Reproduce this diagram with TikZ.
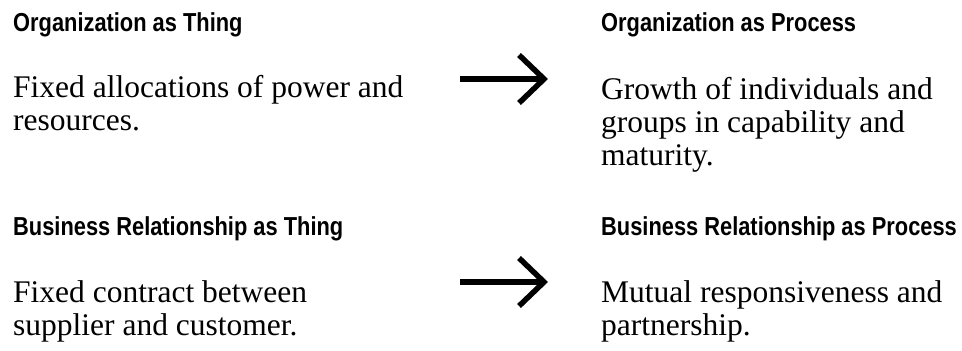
\documentclass[tikz,border=0pt]{standalone}
\usepackage{fontspec}
\setmainfont{Liberation Serif}
\newfontfamily\headfont[FakeStretch=0.84]{Liberation Sans}
\usetikzlibrary{arrows.meta}

\begin{document}
\begin{tikzpicture}[
    x=1pt, y=-1pt,
    heading/.style={anchor=base west, inner sep=0pt, font=\headfont\bfseries\fontsize{26}{30}\selectfont},
    body/.style={anchor=base west, inner sep=0pt, align=left, font=\fontsize{31.5}{33}\selectfont},
    bigarrow/.style={line width=5.5pt, -{Straight Barb[length=25pt, width=48pt, line width=5.5pt]}}
]
\useasboundingbox (0,0) rectangle (962,351);

% Organization: thing -> process (body nodes sit on their last baseline)
\node[heading] (orgthing) at (13,31) {Organization as Thing};
\node[body] (orgthingtxt) at (13,130) {Fixed allocations of power and\\resources.};
\node[heading] (orgproc) at (601,31) {Organization as Process};
\node[body] (orgproctxt) at (601,165) {Growth of individuals and\\groups in capability and\\maturity.};

% Business relationship: thing -> process
\node[heading] (relthing) at (13,235) {Business Relationship as Thing};
\node[body] (relthingtxt) at (13,335) {Fixed contract between\\supplier and customer.};
\node[heading] (relproc) at (601,235) {Business Relationship as Process};
\node[body] (relproctxt) at (601,335) {Mutual responsiveness and\\partnership.};

% Arrows
\coordinate (orgfrom) at (460,79);
\coordinate (orgto) at (548,79);
\coordinate (relfrom) at (460,282);
\coordinate (relto) at (548,282);
\draw[bigarrow] (orgfrom) -- (orgto);
\draw[bigarrow] (relfrom) -- (relto);

\end{tikzpicture}
\end{document}
